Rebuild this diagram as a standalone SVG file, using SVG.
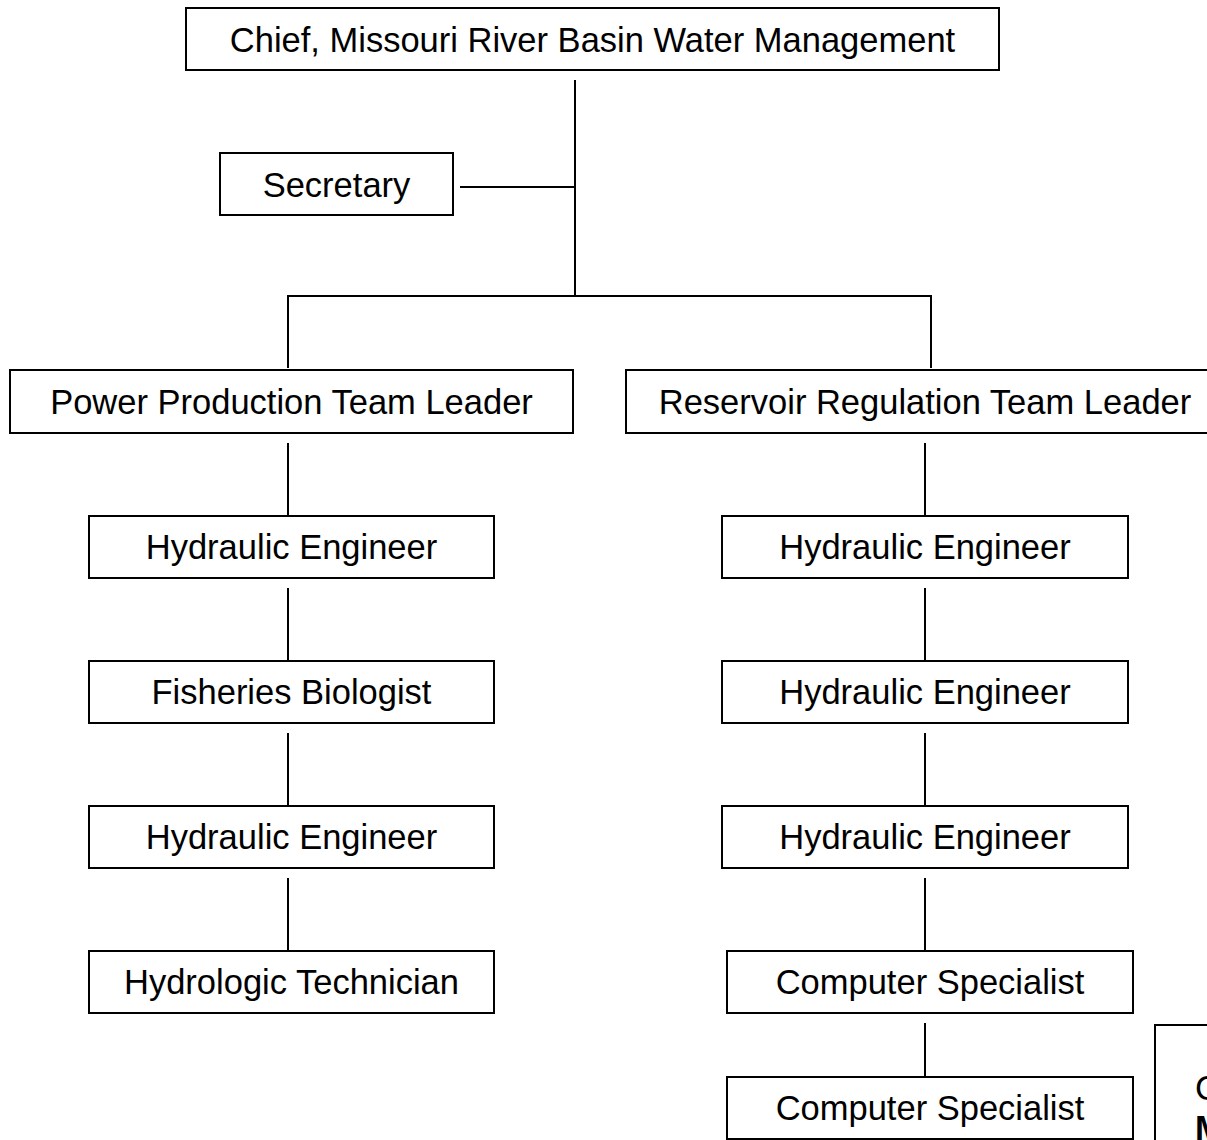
<svg xmlns="http://www.w3.org/2000/svg" width="1207" height="1140" viewBox="0 0 1207 1140">
<style>
.box{fill:#fff;stroke:#000;stroke-width:2}
.t{font-family:"Liberation Sans",Arial,sans-serif;font-size:34.5px;fill:#000;text-anchor:middle}
.c{stroke:#000;stroke-width:2;fill:none}
</style>
<rect width="1207" height="1140" fill="#fff"/>
<g id="connectors">
<line class="c" x1="575" y1="80" x2="575" y2="296"/>
<line class="c" x1="460" y1="187" x2="575" y2="187"/>
<polyline class="c" points="288,368 288,296 931,296 931,368"/>
<line class="c" x1="288" y1="443" x2="288" y2="515"/>
<line class="c" x1="288" y1="588" x2="288" y2="660"/>
<line class="c" x1="288" y1="733" x2="288" y2="805"/>
<line class="c" x1="288" y1="878" x2="288" y2="950"/>
<line class="c" x1="925" y1="443" x2="925" y2="515"/>
<line class="c" x1="925" y1="588" x2="925" y2="660"/>
<line class="c" x1="925" y1="733" x2="925" y2="805"/>
<line class="c" x1="925" y1="878" x2="925" y2="950"/>
<line class="c" x1="925" y1="1023" x2="925" y2="1076"/>
</g>
<g id="chief"><rect class="box" x="186" y="8" width="813" height="62"/><text class="t" x="592.5" y="52">Chief, Missouri River Basin Water Management</text></g>
<g id="secretary"><rect class="box" x="220" y="153" width="233" height="62"/><text class="t" x="336.5" y="197">Secretary</text></g>
<g id="power"><rect class="box" x="10" y="370" width="563" height="63"/><text class="t" x="291.5" y="414">Power Production Team Leader</text></g>
<g id="reservoir"><rect class="box" x="626" y="370" width="600" height="63"/><text class="t" x="925" y="414">Reservoir Regulation Team Leader</text></g>
<g id="l1"><rect class="box" x="89" y="516" width="405" height="62"/><text class="t" x="291.5" y="559">Hydraulic Engineer</text></g>
<g id="l2"><rect class="box" x="89" y="661" width="405" height="62"/><text class="t" x="291.5" y="704">Fisheries Biologist</text></g>
<g id="l3"><rect class="box" x="89" y="806" width="405" height="62"/><text class="t" x="291.5" y="849">Hydraulic Engineer</text></g>
<g id="l4"><rect class="box" x="89" y="951" width="405" height="62"/><text class="t" x="291.5" y="994">Hydrologic Technician</text></g>
<g id="r1"><rect class="box" x="722" y="516" width="406" height="62"/><text class="t" x="925" y="559">Hydraulic Engineer</text></g>
<g id="r2"><rect class="box" x="722" y="661" width="406" height="62"/><text class="t" x="925" y="704">Hydraulic Engineer</text></g>
<g id="r3"><rect class="box" x="722" y="806" width="406" height="62"/><text class="t" x="925" y="849">Hydraulic Engineer</text></g>
<g id="r4"><rect class="box" x="727" y="951" width="406" height="62"/><text class="t" x="930" y="994">Computer Specialist</text></g>
<g id="r5"><rect class="box" x="727" y="1077" width="406" height="62"/><text class="t" x="930" y="1120">Computer Specialist</text></g>
<g id="legend"><rect class="box" x="1155" y="1025" width="100" height="150"/>
<text class="t" x="1195" y="1100" style="text-anchor:start">C</text>
<text class="t" x="1195" y="1140" style="text-anchor:start;font-weight:bold">M</text></g>
</svg>
